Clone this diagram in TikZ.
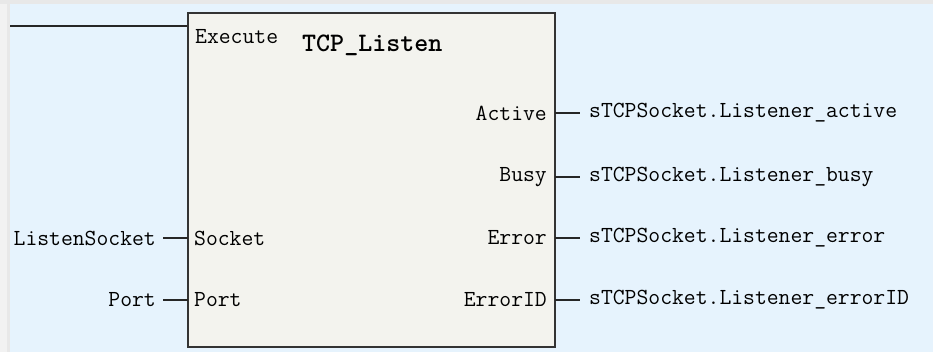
\documentclass[tikz,border=0pt]{standalone}
\usepackage{fontspec}
\begin{document}
\begin{tikzpicture}[x=1pt,y=-1pt,
  lbl/.style={inner sep=0pt,font=\ttfamily\fontsize{23}{24}\selectfont,text=black},
  wire/.style={draw=black!85,line width=1.6pt},
  fbbox/.style={draw=black!80,line width=2.4pt,fill=fbfill,inner sep=0pt,
    minimum width=367pt,minimum height=334pt}]
\definecolor{bgblue}{HTML}{E6F3FD}
\definecolor{fbfill}{HTML}{F3F3EE}
\definecolor{greyband}{HTML}{E8E8E8}
\definecolor{greystrip}{HTML}{F2F2F2}
\useasboundingbox (0,0) rectangle (933,352);
\fill[greystrip] (0,0) rectangle (933,352);
\fill[greyband] (0,0) rectangle (933,4);
\fill[greyband] (7,4) rectangle (10,352);
\fill[bgblue] (10,4) rectangle (933,352);
\node[fbbox] (fb) at (371.5,180) {};
% texts inside box
\node[lbl,anchor=west] (exe) at (195,37) {Execute};
\node[lbl,anchor=west,font=\ttfamily\bfseries\fontsize{26.7}{27}\selectfont] (title) at (302,45) {TCP\_Listen};
\node[lbl,anchor=west] (sock) at (194,238) {Socket};
\node[lbl,anchor=west] (port) at (194,300) {Port};
\node[lbl,anchor=east] (act) at (547,113) {Active};
\node[lbl,anchor=east] (busy) at (547,177) {Busy};
\node[lbl,anchor=east] (err) at (547,238) {Error};
\node[lbl,anchor=east] (eid) at (547,300) {ErrorID};
% outside texts
\node[lbl,anchor=east] (lsock) at (156,238) {ListenSocket};
\node[lbl,anchor=east] (lport) at (156,300) {Port};
\node[lbl,anchor=west] (oact) at (589,113) {sTCPSocket.Listener\_active};
\node[lbl,anchor=west] (obusy) at (589,177) {sTCPSocket.Listener\_busy};
\node[lbl,anchor=west] (oerr) at (589,238) {sTCPSocket.Listener\_error};
\node[lbl,anchor=west] (oeid) at (589,300) {sTCPSocket.Listener\_errorID};
% wires
\coordinate (ein) at (10,26);
\draw[wire] (ein) -- (ein -| fb.west);
\draw[wire,shorten <=7pt,shorten >=6pt] (lsock.east) -- (sock.west);
\draw[wire,shorten <=7pt,shorten >=6pt] (lport.east) -- (port.west);
\draw[wire,shorten <=8pt,shorten >=9pt] (act.east) -- (oact.west);
\draw[wire,shorten <=8pt,shorten >=9pt] (busy.east) -- (obusy.west);
\draw[wire,shorten <=8pt,shorten >=9pt] (err.east) -- (oerr.west);
\draw[wire,shorten <=8pt,shorten >=9pt] (eid.east) -- (oeid.west);
\end{tikzpicture}
\end{document}
